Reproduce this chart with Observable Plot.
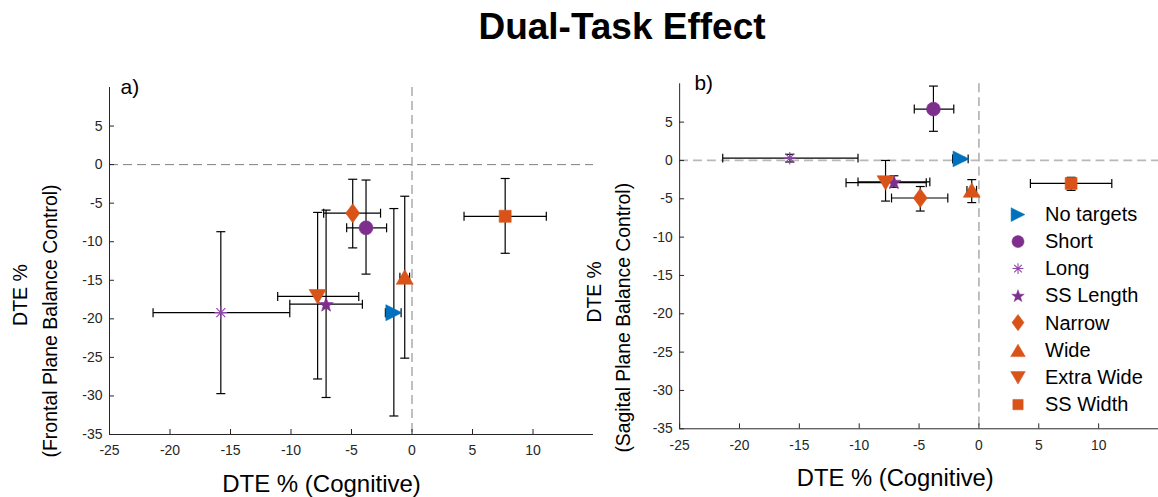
<!DOCTYPE html>
<html><head><meta charset="utf-8">
<script src="https://cdn.jsdelivr.net/npm/d3@7"></script>
<script src="https://cdn.jsdelivr.net/npm/@observablehq/plot@0.6"></script>
<style>
html,body{margin:0;padding:0;background:#fff;overflow:hidden;}
#root{position:relative;width:1158px;height:497px;font-family:"Liberation Sans",Arial,sans-serif;overflow:hidden;}
#title{position:absolute;left:422px;width:400px;top:7px;text-align:center;font-weight:bold;font-size:37px;line-height:40px;color:#000;z-index:2;}
.panel{position:absolute;top:0;}
#legend{position:absolute;left:1004px;top:200.7px;font-size:20px;color:#000;z-index:2;}
#legend .row{display:flex;align-items:center;height:27.2px;}
#legend svg{flex:none;}
#legend span{margin-left:13px;white-space:nowrap;}
</style>
</head><body>
<div id="root">
  <div id="title">Dual-Task Effect</div>
  <div id="pa" class="panel" style="left:0px"></div>
  <div id="pb" class="panel" style="left:580px"></div>
  <div id="legend"></div>
</div>
<script>
// ---- data ----
const categories = ["No targets","Short","Long","SS Length","Narrow","Wide","Extra Wide","SS Width"];
const cogMean = [-1.5, -3.8, -15.8, -7.1, -4.9, -0.6, -7.8, 7.7];
const cogLow  = [-2.2, -5.4, -21.4, -10.1, -7.3, -1.0, -11.1, 4.3];
const cogHigh = [-0.9, -2.1, -10.1, -4.1, -2.6, -0.2, -4.4, 11.1];
const frontalMean = [-19.2, -8.2, -19.2, -18.1, -6.3, -14.6, -17.1, -6.7];
const frontalLow  = [-32.6, -14.2, -29.7, -30.2, -10.8, -25.1, -27.8, -11.5];
const frontalHigh = [-5.7, -2.0, -8.7, -5.9, -1.9, -4.1, -6.2, -1.8];
const sagittalMean = [0.2, 6.7, 0.3, -2.8, -4.9, -3.9, -2.9, -3.0];
const sagittalLow  = [0.0, 3.8, -0.2, -3.5, -6.6, -5.5, -5.3, -3.9];
const sagittalHigh = [0.4, 9.7, 0.8, -2.0, -3.4, -2.5, 0.0, -2.2];
const colors = ["#0072BD","#7E2F8E","#8E44A8","#7E2F8E","#D95319","#D95319","#D95319","#D95319"];
const xTicks = [-25, -20, -15, -10, -5, 0, 5, 10];
const yTicks = [-35, -30, -25, -20, -15, -10, -5, 0, 5];
const xDomain = [-25, 15];
const yDomain = [-35, 10];
const xLabel = "DTE % (Cognitive)";
const yLabelTop = "DTE %";
const yLabelA = "(Frontal Plane Balance Control)";
const yLabelB = "(Sagital Plane Balance Control)";

// ---- marker shapes (MATLAB-like) ----
const sym = fn => ({draw(c) { fn(c); }});
const poly = pts => sym(c => { c.moveTo(pts[0][0], pts[0][1]); for (const p of pts.slice(1)) c.lineTo(p[0], p[1]); c.closePath(); });
const starPts = d3.range(10).map(k => { const a = -Math.PI/2 + k*Math.PI/5, r = k % 2 ? 3.1 : 7.6; return [r*Math.cos(a), r*Math.sin(a) + 0.8]; });
const shapes = [
  poly([[8,0],[-8,-8],[-8,8]]),                       // right triangle
  sym(c => { c.moveTo(7,0); c.arc(0,0,7,0,2*Math.PI); c.closePath(); }), // circle
  sym(c => { for (let k = 0; k < 4; k++) { const a = k*Math.PI/4, r = 6.3; c.moveTo(-r*Math.cos(a), -r*Math.sin(a)); c.lineTo(r*Math.cos(a), r*Math.sin(a)); } }), // asterisk
  poly(starPts),                                        // star
  poly([[0,-9.5],[7,0],[0,9.5],[-7,0]]),               // diamond
  poly([[0,-7.5],[8.5,7],[-8.5,7]]),                   // triangle up
  poly([[0,7.5],[8.5,-7],[-8.5,-7]]),                  // triangle down
  poly([[-6,-6],[6,-6],[6,6],[-6,6]])                  // square
];
const hollow = [false, false, true, false, false, false, false, false];
const capH = sym(c => { c.moveTo(-4.5,0); c.lineTo(4.5,0); });
const capV = sym(c => { c.moveTo(0,-4.5); c.lineTo(0,4.5); });

const axisColor = "#262626";
const font = "'Liberation Sans', Arial, sans-serif";

function panel(o) {
  const idx = d3.range(categories.length);
  const yM = o.yMean, yL = o.yLow, yH = o.yHigh;
  const bar = {stroke: "#000", strokeWidth: 1.2};
  const lbl = {text: d => d, frameAnchor: "left", rotate: -90, textAnchor: "middle", lineAnchor: "middle", fontSize: 19.5, fill: "#000"};
  return Plot.plot({
    width: o.width, height: 497,
    marginLeft: o.marginLeft, marginRight: o.marginRight, marginTop: o.marginTop, marginBottom: o.marginBottom,
    x: {domain: xDomain},
    y: {domain: yDomain},
    style: {fontFamily: font, background: "transparent", color: axisColor, overflow: "visible"},
    marks: [
      Plot.ruleY([0], {stroke: o.zeroStroke, strokeWidth: o.zeroWidth, strokeDasharray: "9,5"}),
      Plot.ruleX([0], {stroke: o.zeroStroke, strokeWidth: o.zeroWidth, strokeDasharray: "9,5"}),
      Plot.ruleX([xDomain[0]], {stroke: axisColor, strokeWidth: 1}),
      Plot.ruleY([yDomain[0]], {stroke: axisColor, strokeWidth: 1}),
      Plot.axisX({ticks: xTicks, tickSize: -5, tickPadding: 16, fontSize: 14, label: null, tickFormat: d => String(d)}),
      Plot.axisY({ticks: yTicks, tickSize: -5, tickPadding: 12, fontSize: 14, label: null, tickFormat: d => String(d)}),
      Plot.link(idx, {x1: i => cogLow[i], x2: i => cogHigh[i], y1: i => yM[i], y2: i => yM[i], ...bar}),
      Plot.link(idx, {x1: i => cogMean[i], x2: i => cogMean[i], y1: i => yL[i], y2: i => yH[i], ...bar}),
      Plot.dot(idx, {x: i => cogLow[i], y: i => yM[i], symbol: capV, fill: "none", ...bar}),
      Plot.dot(idx, {x: i => cogHigh[i], y: i => yM[i], symbol: capV, fill: "none", ...bar}),
      Plot.dot(idx, {x: i => cogMean[i], y: i => yL[i], symbol: capH, fill: "none", ...bar}),
      Plot.dot(idx, {x: i => cogMean[i], y: i => yH[i], symbol: capH, fill: "none", ...bar}),
      ...idx.map(i => Plot.dot([i], {
        x: j => cogMean[j], y: j => yM[j], symbol: shapes[i],
        fill: hollow[i] ? "none" : colors[i], stroke: colors[i], strokeWidth: hollow[i] ? 1.1 : 0.6
      })),
      Plot.text([yLabelTop], {...lbl, dx: o.yLabelDx - 30, dy: o.yLabelDy1}),
      Plot.text([o.yLabel], {...lbl, dx: o.yLabelDx, dy: o.yLabelDy2}),
      Plot.text([xLabel], {text: d => d, frameAnchor: "bottom", lineAnchor: "middle", dy: 50, dx: o.xLabelDx, fontSize: 24, fill: "#000"}),
      Plot.text([o.tag], {text: d => d, frameAnchor: "top-left", textAnchor: "start", lineAnchor: "middle", dx: o.tagDx, fontSize: 21, fill: "#000"})
    ]
  });
}

document.getElementById("pa").append(panel({
  yMean: frontalMean, yLow: frontalLow, yHigh: frontalHigh,
  yLabel: yLabelA, tag: "a)",
  width: 600, marginLeft: 109, marginRight: 7, marginTop: 87, marginBottom: 63,
  zeroStroke: "#808080", zeroWidth: 1, yLabelDx: -59, yLabelDy1: 34, yLabelDy2: 60, xLabelDx: -30, tagDx: 11
}));
document.getElementById("pb").append(panel({
  yMean: sagittalMean, yLow: sagittalLow, yHigh: sagittalHigh,
  yLabel: yLabelB, tag: "b)",
  width: 583, marginLeft: 100, marginRight: 0, marginTop: 84, marginBottom: 65,
  zeroStroke: "#b8b8b8", zeroWidth: 1.8, yLabelDx: -56, yLabelDy1: 36, yLabelDy2: 62, xLabelDx: -24, tagDx: 15
}));

// ---- legend ----
const legend = d3.select("#legend");
categories.forEach((name, i) => {
  const row = legend.append("div").attr("class", "row");
  const svg = row.append("svg").attr("width", 28).attr("height", 27.2);
  const p = d3.path();
  shapes[i].draw(p);
  svg.append("path").attr("d", p.toString())
    .attr("transform", "translate(14,13.6) scale(0.86)")
    .attr("fill", hollow[i] ? "none" : colors[i])
    .attr("stroke", colors[i])
    .attr("stroke-width", hollow[i] ? 1.2 : 0.6);
  row.append("span").text(name);
});
</script>
</body></html>
